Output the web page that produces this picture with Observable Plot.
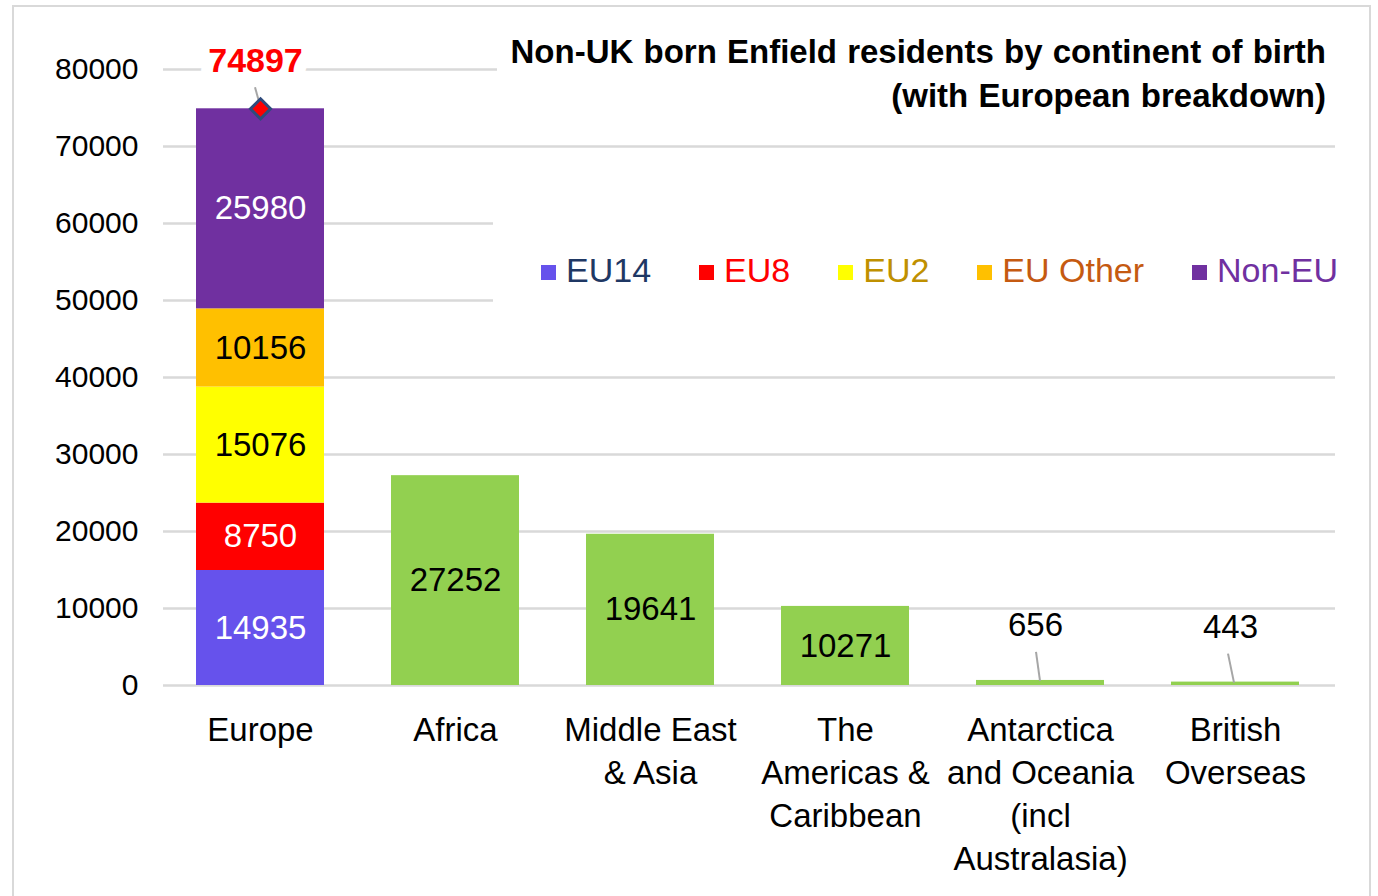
<!DOCTYPE html>
<html>
<head>
<meta charset="utf-8">
<script src="https://cdn.jsdelivr.net/npm/d3@7"></script>
<script src="https://cdn.jsdelivr.net/npm/@observablehq/plot@0.6"></script>
<style>
html, body { margin: 0; padding: 0; background: #fff; overflow: hidden; }
body { width: 1378px; height: 896px; position: relative; font-family: "Liberation Sans", Arial, sans-serif; color: #000; }
#chart { position: absolute; left: 0; top: 0; }
#frame { position: absolute; left: 12px; top: 5px; width: 1359px; height: 1000px; border: 2px solid #d9d9d9; box-sizing: border-box; pointer-events: none; }
#titlebox { position: absolute; left: 497px; top: 28px; width: 845px; height: 94px; background: #fff; }
#title { position: absolute; right: 52px; top: 30px; font-weight: bold; font-size: 33px; line-height: 44px; text-align: right; white-space: nowrap; word-spacing: 1px; }
#legendbox { position: absolute; left: 493px; top: 205px; width: 850px; height: 110px; background: #fff; }
#legend { position: absolute; left: 541px; top: 250px; height: 40px; display: flex; align-items: center; font-size: 34px; white-space: nowrap; }
.item { display: flex; align-items: center; margin-right: 48px; }
.sw { width: 15px; height: 15px; margin-right: 10px; position: relative; top: 2px; }
</style>
</head>
<body>
<div id="chart"></div>
<div id="titlebox"></div>
<div id="title">Non-UK born Enfield residents by continent of birth<br>(with European breakdown)</div>
<div id="legendbox"></div>
<div id="legend"></div>
<div id="frame"></div>
<script>
// ---- Data ----
const categories = ["Europe", "Africa", "Middle East & Asia", "The Americas & Caribbean", "Antarctica and Oceania (incl Australasia)", "British Overseas"];
const categoryLabels = ["Europe", "Africa", "Middle East\n& Asia", "The\nAmericas &\nCaribbean", "Antarctica\nand Oceania\n(incl\nAustralasia)", "British\nOverseas"];
const europeSeries = ["EU14", "EU8", "EU2", "EU Other", "Non-EU"];
const europeValues = [14935, 8750, 15076, 10156, 25980];
const otherCategories = ["Africa", "Middle East & Asia", "The Americas & Caribbean", "Antarctica and Oceania (incl Australasia)", "British Overseas"];
const otherValues = [27252, 19641, 10271, 656, 443];
const yTicks = [0, 10000, 20000, 30000, 40000, 50000, 60000, 70000, 80000];
const smallCategories = ["Antarctica and Oceania (incl Australasia)", "British Overseas"];

// ---- Styles ----
const seriesFill = {"EU14": "#6652EC", "EU8": "#FF0000", "EU2": "#FFFF00", "EU Other": "#FFC000", "Non-EU": "#7030A0", "Other": "#92D050"};
const seriesLabelColor = {"EU14": "#ffffff", "EU8": "#ffffff", "EU2": "#000000", "EU Other": "#000000", "Non-EU": "#ffffff", "Other": "#000000"};
const legendTextColor = {"EU14": "#1F3864", "EU8": "#FF0000", "EU2": "#BF9000", "EU Other": "#C55A11", "Non-EU": "#7030A0"};
// leader line offsets in pixels relative to bar-top centre: [x1, y1, x2, y2]
const leaderOffsets = {
  "Europe": [-5, -21, 0, -3],
  "Antarctica and Oceania (incl Australasia)": [-4, -28, 0, 1],
  "British Overseas": [-7, -28, -1, 1]
};

// ---- Table ----
const rows = [
  ...europeSeries.map((s, i) => ({cat: "Europe", series: s, value: europeValues[i]})),
  ...otherCategories.map((c, i) => ({cat: c, series: "Other", value: otherValues[i]}))
].map(d => ({...d, fill: seriesFill[d.series], labelColor: seriesLabelColor[d.series]}));

const europeTotal = d3.sum(europeValues);
const totalRows = [{cat: "Europe", value: europeTotal}];
const smallRows = rows.filter(d => smallCategories.includes(d.cat));
const leaderRows = [...totalRows, ...smallRows.map(d => ({cat: d.cat, value: d.value}))];

const font = '"Liberation Sans", Arial, sans-serif';

const chart = Plot.plot({
  width: 1378,
  height: 896,
  marginLeft: 163,
  marginRight: 43,
  marginTop: 69,
  marginBottom: 211,
  style: {fontFamily: font, background: "transparent", color: "#000", overflow: "visible"},
  x: {domain: categories, paddingInner: 0.3436, paddingOuter: 0.176, align: 0.478, axis: null},
  y: {domain: [0, 80000], axis: null},
  color: {type: "identity"},
  marks: [
    Plot.ruleY(yTicks, {stroke: "#d9d9d9", strokeWidth: 2.5}),
    Plot.text(yTicks, {y: d => d, frameAnchor: "left", textAnchor: "end", dx: -25, text: d => String(d), fontSize: 30, fill: "#000"}),
    Plot.text(categories, {x: d => d, frameAnchor: "bottom", lineAnchor: "top", dy: 25, text: (d, i) => categoryLabels[i], fontSize: 33, lineHeight: 1.3, fill: "#000"}),
    Plot.barY(rows, {x: "cat", y: "value", fill: "fill", z: "series"}),
    Plot.text(rows.filter(d => !smallCategories.includes(d.cat)),
      Plot.stackY({x: "cat", y: "value", z: "series", text: d => String(d.value), fill: "labelColor", fontSize: 33})),
    Plot.text(smallRows, {x: "cat", y: "value", text: d => String(d.value), dx: -5, dy: -55, fontSize: 33, fill: "#000"}),
    Plot.dot(leaderRows, {
      x: "cat", y: "value",
      render(index, scales, values) {
        const bw = scales.x && scales.x.bandwidth ? scales.x.bandwidth() / 2 : 0;
        const g = d3.create("svg:g");
        for (const i of index) {
          const cx = values.x[i] + bw, cy = values.y[i];
          const o = leaderOffsets[leaderRows[i].cat];
          g.append("line")
            .attr("x1", cx + o[0]).attr("y1", cy + o[1])
            .attr("x2", cx + o[2]).attr("y2", cy + o[3])
            .attr("stroke", "#a6a6a6").attr("stroke-width", 2);
        }
        return g.node();
      }
    }),
    Plot.dot(totalRows, {x: "cat", y: "value", symbol: "diamond2", r: 9, fill: "#FF0000", stroke: "#2F4B7C", strokeWidth: 3}),
    Plot.text(totalRows, {x: "cat", y: "value", text: d => String(d.value), dx: -5, dy: -48, fill: "#FF0000", fontWeight: "bold", fontSize: 34, stroke: "white", strokeWidth: 24})
  ]
});
document.getElementById("chart").appendChild(chart);

// ---- Legend ----
const legend = d3.select("#legend");
europeSeries.forEach(s => {
  const item = legend.append("div").attr("class", "item");
  item.append("div").attr("class", "sw").style("background", seriesFill[s]);
  item.append("span").style("color", legendTextColor[s]).text(s);
});
</script>
</body>
</html>
